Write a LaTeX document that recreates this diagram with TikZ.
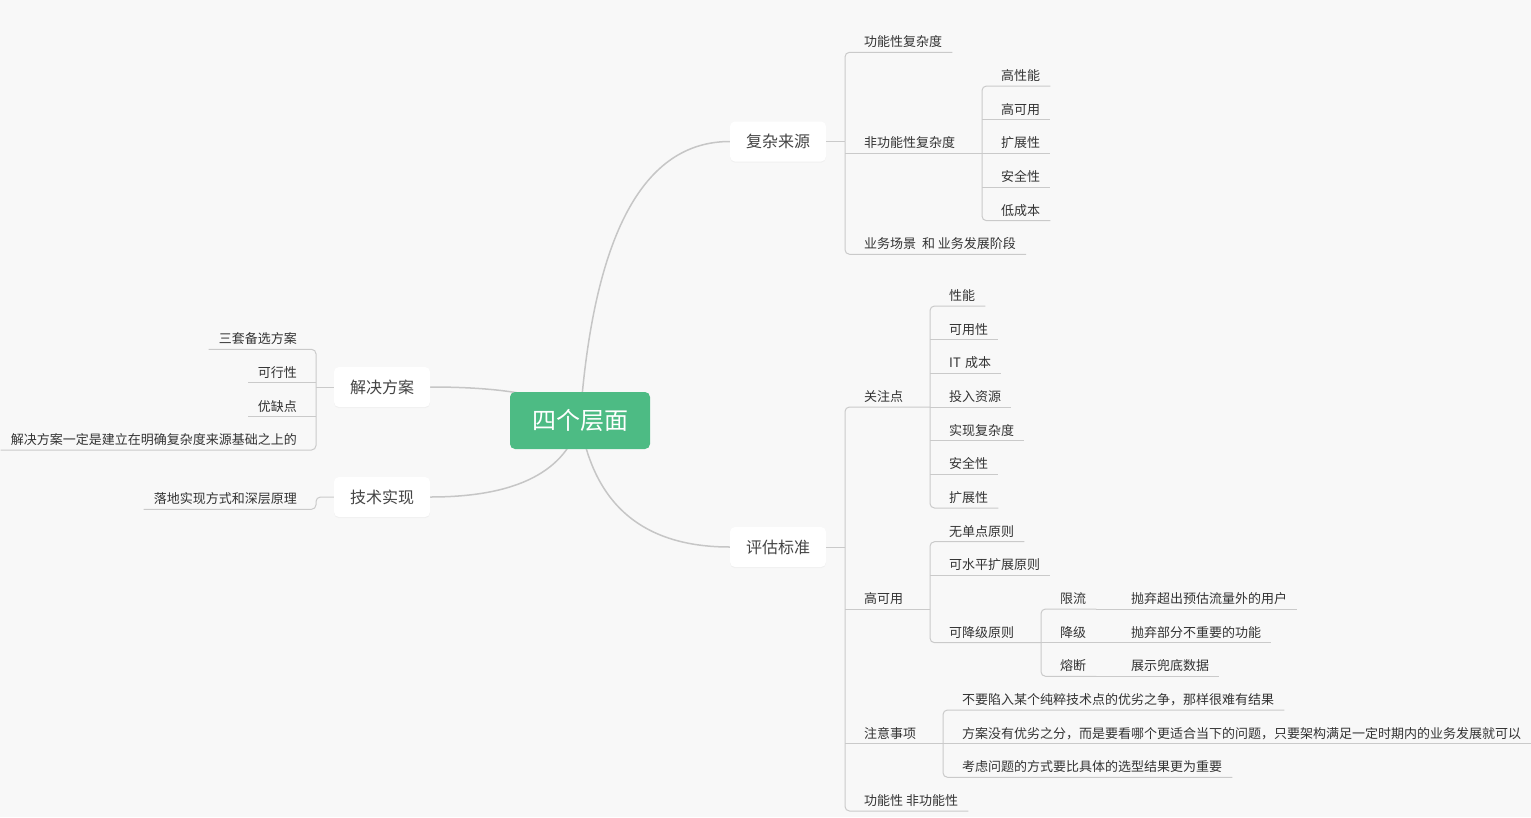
\documentclass[tikz,border=0pt]{standalone}
\usepackage{fontspec}
\setmainfont{Noto Sans CJK SC}
\usetikzlibrary{calc,shadows}
\definecolor{bgc}{HTML}{F8F8F8}
\definecolor{linec}{HTML}{CACACA}
\definecolor{curvec}{HTML}{C6C6C6}
\definecolor{rootc}{HTML}{4DBB84}
\definecolor{txt}{HTML}{333333}
\definecolor{toptxt}{HTML}{444444}
\pgfdeclarelayer{bgl}
\pgfdeclarelayer{edges}
\pgfsetlayers{bgl,edges,main}
\tikzset{
  leafR/.style={anchor=south west, inner xsep=0pt, inner ysep=0pt, text height=10pt, text depth=5.4pt, font=\fontsize{13pt}{15pt}\selectfont, text=txt},
  leafL/.style={leafR, anchor=south east},
  conn/.style={draw=linec, line width=1pt, rounded corners=4.5pt},
  tee/.style={draw=linec, line width=1pt},
  topicbox/.style={rectangle, rounded corners=5pt, fill=white, minimum width=96pt, minimum height=40pt, inner sep=0pt, font=\fontsize{16pt}{18pt}\selectfont, text=toptxt, drop shadow={opacity=0.06, shadow xshift=0pt, shadow yshift=-1.2pt}},
  rootbox/.style={rectangle, rounded corners=5pt, fill=rootc, minimum width=140pt, minimum height=57pt, inner sep=0pt, font=\fontsize{24pt}{28pt}\selectfont, text=white},
  curve/.style={draw=curvec, line width=1.5pt},
}
\begin{document}
\begin{tikzpicture}[x=1pt,y=-1pt]
\begin{pgfonlayer}{bgl}
\fill[bgc] (0,0) rectangle (1531,817);
\end{pgfonlayer}
\useasboundingbox (0,0) rectangle (1531,817);

% root and main topics
\node[rootbox] (root) at (580,420.5) {四个层面};
\node[topicbox] (fz) at (778,141.5) {复杂来源};
\node[topicbox] (pg) at (778,547) {评估标准};
\node[topicbox] (jj) at (382,387) {解决方案};
\node[topicbox] (js) at (382,497) {技术实现};

% curves from root
\coordinate (cfz) at ($(root.center |- fz.west)+(20,0)$);
\coordinate (cpg) at ($(root.center |- pg.west)+(20,0)$);
\coordinate (cjj) at ($(root.center |- jj.east)+(-24,0)$);
\coordinate (cjs) at ($(root.center |- js.east)+(-20,0)$);
\begin{pgfonlayer}{edges}
\draw[curve] (root.center) .. controls ($(root.center)!0.6667!(cfz)$) and ($(fz.west)!0.6667!(cfz)$) .. (fz.west);
\draw[curve] (root.center) .. controls ($(root.center)!0.6667!(cpg)$) and ($(pg.west)!0.6667!(cpg)$) .. (pg.west);
\draw[curve] (root.center) .. controls ($(root.center)!0.6667!(cjj)$) and ($(jj.east)!0.6667!(cjj)$) .. (jj.east);
\draw[curve] (root.center) .. controls ($(root.center)!0.6667!(cjs)$) and ($(js.east)!0.6667!(cjs)$) .. (js.east);
\end{pgfonlayer}

% ---------- 复杂来源 ----------
\coordinate (fzJ) at (845,141.5);
\draw[tee] (fz.east) -- (fzJ);
\node[leafR] (a1) at (864,52.3) {功能性复杂度};
\node[leafR] (a2) at (864,153.3) {非功能性复杂度};
\node[leafR] (a3) at (864,254.3) {业务场景~~和 业务发展阶段};
\draw[conn] (fzJ) |- ([xshift=10pt]a1.south east);
\draw[conn] (fzJ) |- ([xshift=10pt]a3.south east);
\coordinate (a2J) at (982,153.3);
\draw[tee] (fzJ |- a2.south) -- (a2J);
\node[leafR] (a21) at (1001,86) {高性能};
\node[leafR] (a22) at (1001,119.7) {高可用};
\node[leafR] (a23) at (1001,153.3) {扩展性};
\node[leafR] (a24) at (1001,187) {安全性};
\node[leafR] (a25) at (1001,220.7) {低成本};
\draw[conn] (a2J) |- ([xshift=10pt]a21.south east);
\draw[conn] (a2J) |- ([xshift=10pt]a25.south east);
\draw[tee] (a2J |- a22.south) -- ([xshift=10pt]a22.south east);
\draw[tee] (a2J) -- ([xshift=10pt]a23.south east);
\draw[tee] (a2J |- a24.south) -- ([xshift=10pt]a24.south east);

% ---------- 评估标准 ----------
\coordinate (pgJ) at (845,547);
\draw[tee] (pg.east) -- (pgJ);
\node[leafR] (b1) at (864,407) {关注点};
\node[leafR] (b2) at (864,609) {高可用};
\node[leafR] (b3) at (864,743.7) {注意事项};
\node[leafR] (b4) at (864,811) {功能性 非功能性};
\coordinate (b1J) at (930,407);
\coordinate (b2J) at (930,609);
\coordinate (b3J) at (943,743.7);
\draw[conn] (pgJ) |- (b1J);
\draw[conn] (pgJ) |- ([xshift=10pt]b4.south east);
\draw[tee] (pgJ |- b2J) -- (b2J);
\draw[tee] (pgJ |- b3J) -- (b3J);

% 关注点 children
\node[leafR] (b11) at (949,306) {性能};
\node[leafR] (b12) at (949,339.7) {可用性};
\node[leafR] (b13) at (949,373.3) {IT\,\,成本};
\node[leafR] (b14) at (949,407) {投入资源};
\node[leafR] (b15) at (949,440.7) {实现复杂度};
\node[leafR] (b16) at (949,474.3) {安全性};
\node[leafR] (b17) at (949,508) {扩展性};
\draw[conn] (b1J) |- ([xshift=10pt]b11.south east);
\draw[conn] (b1J) |- ([xshift=10pt]b17.south east);
\draw[tee] (b1J |- b12.south) -- ([xshift=10pt]b12.south east);
\draw[tee] (b1J |- b13.south) -- ([xshift=10pt]b13.south east);
\draw[tee] (b1J) -- ([xshift=10pt]b14.south east);
\draw[tee] (b1J |- b15.south) -- ([xshift=10pt]b15.south east);
\draw[tee] (b1J |- b16.south) -- ([xshift=10pt]b16.south east);

% 高可用 children
\node[leafR] (b21) at (949,541.7) {无单点原则};
\node[leafR] (b22) at (949,575.3) {可水平扩展原则};
\node[leafR] (b23) at (949,642.7) {可降级原则};
\coordinate (b23J) at (1041,642.7);
\draw[conn] (b2J) |- ([xshift=10pt]b21.south east);
\draw[conn] (b2J) |- (b23J);
\draw[tee] (b2J |- b22.south) -- ([xshift=10pt]b22.south east);

% 可降级原则 children
\node[leafR] (c1) at (1060,609) {限流};
\node[leafR] (c2) at (1060,642.7) {降级};
\node[leafR] (c3) at (1060,676.3) {熔断};
\draw[conn] (b23J) |- ([xshift=10pt]c1.south east);
\draw[conn] (b23J) |- ([xshift=10pt]c3.south east);
\draw[tee] (b23J) -- ([xshift=10pt]c2.south east);
\node[leafR] (c11) at (1131,609) {抛弃超出预估流量外的用户};
\node[leafR] (c21) at (1131,642.7) {抛弃部分不重要的功能};
\node[leafR] (c31) at (1131,676.3) {展示兜底数据};
\draw[tee] ([xshift=10pt]c1.south east) -- ([xshift=10pt]c11.south east);
\draw[tee] ([xshift=10pt]c2.south east) -- ([xshift=10pt]c21.south east);
\draw[tee] ([xshift=10pt]c3.south east) -- ([xshift=10pt]c31.south east);

% 注意事项 children
\node[leafR] (b31) at (962,710) {不要陷入某个纯粹技术点的优劣之争，那样很难有结果};
\node[leafR] (b32) at (962,743.7) {方案没有优劣之分，而是要看哪个更适合当下的问题，只要架构满足一定时期内的业务发展就可以};
\node[leafR] (b33) at (962,777.3) {考虑问题的方式要比具体的选型结果更为重要};
\draw[conn] (b3J) |- ([xshift=10pt]b31.south east);
\draw[conn] (b3J) |- ([xshift=10pt]b33.south east);
\draw[tee] (b3J) -- ([xshift=10pt]b32.south east);

% ---------- 解决方案 ----------
\coordinate (jjJ) at (316,387);
\draw[tee] (jj.west) -- (jjJ);
\node[leafL] (d1) at (297,349.3) {三套备选方案};
\node[leafL] (d2) at (297,382.7) {可行性};
\node[leafL] (d3) at (297,416.7) {优缺点};
\node[leafL] (d4) at (297,450) {解决方案一定是建立在明确复杂度来源基础之上的};
\draw[conn] (jjJ) |- ([xshift=-10pt]d1.south west);
\draw[conn] (jjJ) |- ([xshift=-10pt]d4.south west);
\draw[tee] (jjJ |- d2.south) -- ([xshift=-10pt]d2.south west);
\draw[tee] (jjJ |- d3.south) -- ([xshift=-10pt]d3.south west);

% ---------- 技术实现 ----------
\coordinate (jsJ) at (316,497);
\node[leafL] (e1) at (297,509.3) {落地实现方式和深层原理};
\draw[conn] (js.west) -- (jsJ) |- ([xshift=-10pt]e1.south west);
\end{tikzpicture}
\end{document}
